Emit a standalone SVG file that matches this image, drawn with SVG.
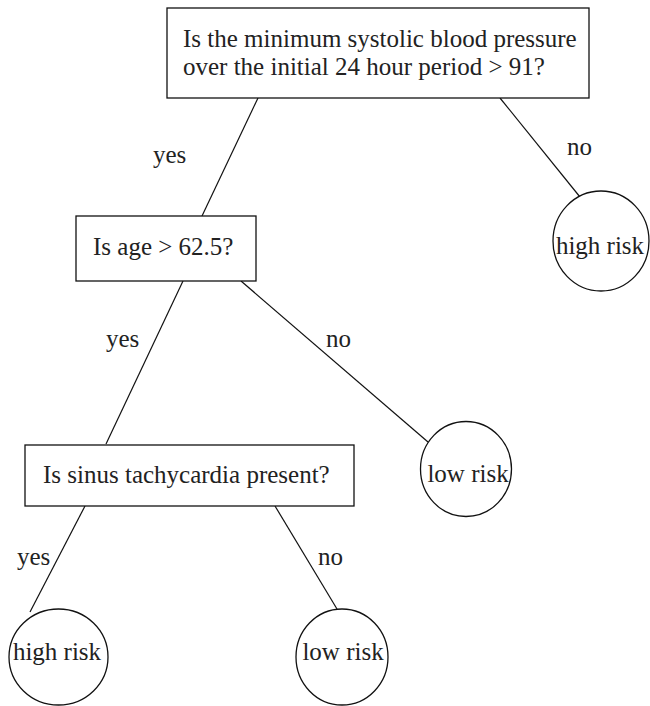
<svg xmlns="http://www.w3.org/2000/svg" width="650" height="706" viewBox="0 0 650 706">
<style>
text{font-family:"Liberation Serif","Times New Roman",serif;font-size:25px;fill:#222}
.box{fill:#fff;stroke:#111;stroke-width:1.3}
.leaf{fill:#fff;stroke:#111;stroke-width:1.3}
.edge{stroke:#111;stroke-width:1.2;fill:none}
.mid{text-anchor:middle}
</style>
<rect width="650" height="706" fill="#fff"/>
<g id="connectors">
<line class="edge" x1="258" y1="98" x2="202" y2="216"/>
<line class="edge" x1="500" y1="98" x2="580" y2="197"/>
<line class="edge" x1="183" y1="281" x2="106" y2="444"/>
<line class="edge" x1="241" y1="281" x2="428" y2="442"/>
<line class="edge" x1="85" y1="506" x2="30" y2="612"/>
<line class="edge" x1="275" y1="506" x2="337" y2="609"/>
<text x="153" y="163">yes</text>
<text x="567" y="155">no</text>
<text x="106" y="347">yes</text>
<text x="326" y="347">no</text>
<text x="17" y="565">yes</text>
<text x="318" y="565">no</text>
</g>
<g id="q1">
<rect class="box" x="167" y="8" width="422" height="90"/>
<text x="183" y="47">Is the minimum systolic blood pressure</text>
<text x="183" y="75">over the initial 24 hour period &gt; 91?</text>
</g>
<g id="q2">
<rect class="box" x="76" y="216" width="180" height="65"/>
<text x="93" y="255">Is age &gt; 62.5?</text>
</g>
<g id="q3">
<rect class="box" x="25" y="445" width="329" height="61"/>
<text x="43" y="483">Is sinus tachycardia present?</text>
</g>
<g id="leaf1">
<ellipse class="leaf" cx="601" cy="241" rx="48" ry="50"/>
<text class="mid" x="600" y="254">high risk</text>
</g>
<g id="leaf2">
<ellipse class="leaf" cx="466" cy="469" rx="45.5" ry="47.5"/>
<text class="mid" x="468" y="482">low risk</text>
</g>
<g id="leaf3">
<ellipse class="leaf" cx="58.5" cy="657" rx="49.5" ry="48"/>
<text class="mid" x="57" y="660">high risk</text>
</g>
<g id="leaf4">
<ellipse class="leaf" cx="342" cy="657" rx="46" ry="48"/>
<text class="mid" x="343" y="660">low risk</text>
</g>
</svg>
